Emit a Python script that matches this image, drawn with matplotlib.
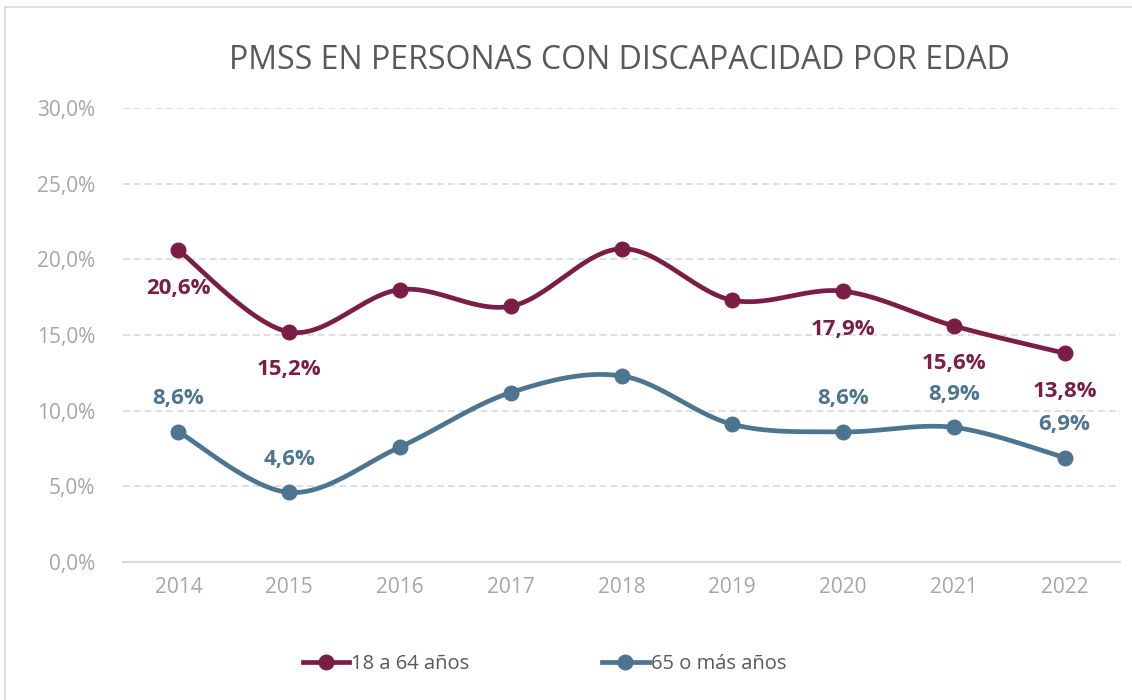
import numpy as np
import matplotlib
matplotlib.use("Agg")
import matplotlib.pyplot as plt
from matplotlib.patches import Rectangle
from matplotlib.ticker import FuncFormatter

years = ["2014", "2015", "2016", "2017", "2018", "2019", "2020", "2021", "2022"]
adultos = [20.6, 15.2, 18.0, 16.9, 20.7, 17.3, 17.9, 15.6, 13.8]
mayores = [8.6, 4.6, 7.6, 11.2, 12.3, 9.1, 8.6, 8.9, 6.9]
# which points carry a data label
labels_adultos = [True, True, False, False, False, False, True, True, True]
labels_mayores = [True, True, False, False, False, False, True, True, True]

RED = "#7B1E45"
BLUE = "#4E7590"
GRAY = "#A6A6A6"

plt.rcParams['font.family'] = ['Open Sans', 'DejaVu Sans']


def smooth(x, y, n=30):
    # Catmull-Rom style smoothing, similar to a spreadsheet "smoothed line"
    x = np.asarray(x, float)
    y = np.asarray(y, float)
    px = np.concatenate([[x[0]], x, [x[-1]]])
    py = np.concatenate([[y[0]], y, [y[-1]]])
    xs, ys = [], []
    t = np.linspace(0, 1, n)
    for i in range(1, len(px) - 2):
        p0, p1, p2, p3 = (np.array([px[j], py[j]]) for j in (i - 1, i, i + 1, i + 2))
        c1 = p1 + (p2 - p0) / 6
        c2 = p2 - (p3 - p1) / 6
        pts = ((1 - t) ** 3)[:, None] * p1 + (3 * (1 - t) ** 2 * t)[:, None] * c1 \
            + (3 * (1 - t) * t ** 2)[:, None] * c2 + (t ** 3)[:, None] * p2
        xs.extend(pts[:, 0])
        ys.extend(pts[:, 1])
    return np.array(xs), np.array(ys)


fig = plt.figure(figsize=(11.32, 7), dpi=100)
ax = fig.add_axes([0.1087, 0.1971, 0.8807, 0.6486])

x = np.arange(len(years))
for vals, color, name in [(adultos, RED, "18 a 64 años"), (mayores, BLUE, "65 o más años")]:
    sx, sy = smooth(x, vals)
    ax.plot(sx, sy, color=color, lw=3.4, solid_capstyle="round", zorder=3)
    ax.plot(x, vals, "o", color=color, ms=10.5, zorder=4)
    ax.plot([], [], "-o", color=color, lw=3.4, ms=10.5, label=name)

for i, v in enumerate(adultos):
    if labels_adultos[i]:
        ax.annotate(f"{v:.1f}%".replace(".", ","), (x[i], v), xytext=(0, -38),
                    textcoords="offset pixels", ha="center", va="center",
                    color=RED, fontsize=16, fontweight="bold")
for i, v in enumerate(mayores):
    if labels_mayores[i]:
        ax.annotate(f"{v:.1f}%".replace(".", ","), (x[i], v), xytext=(0, 33),
                    textcoords="offset pixels", ha="center", va="center",
                    color=BLUE, fontsize=16, fontweight="bold")

ax.set_xlim(-0.5, len(years) - 0.5)
ax.set_ylim(0, 30)
ax.set_yticks(np.arange(0, 31, 5))
ax.yaxis.set_major_formatter(FuncFormatter(lambda v, p: f"{v:.1f}%".replace(".", ",")))
ax.set_xticks(x)
ax.set_xticklabels(years)
ax.tick_params(length=0, colors=GRAY, labelsize=15)
ax.tick_params(axis="y", pad=20)
ax.tick_params(axis="x", pad=11)
ax.grid(axis="y", color="#D9D9D9", ls=(0, (4, 2.5)), lw=1.2)
ax.set_axisbelow(True)
for s in ["top", "right", "left"]:
    ax.spines[s].set_visible(False)
ax.spines["bottom"].set_color("#D9D9D9")
ax.spines["bottom"].set_linewidth(1.5)

fig.text(0.547, 0.913, "PMSS EN PERSONAS CON DISCAPACIDAD POR EDAD", ha="center",
         va="center", fontsize=23, color="#595959")

fig.legend(loc="center", bbox_to_anchor=(0.481, 0.051), ncol=2, frameon=False,
           fontsize=14.5, labelcolor="#595959", handlelength=2.3, handletextpad=0.1,
           columnspacing=6.6)

fig.patches.append(Rectangle((5 / 1132, -0.1), 1.2, (700 - 7) / 700 + 0.1,
                             transform=fig.transFigure, fill=False,
                             edgecolor="#D9D9D9", lw=1.2))

fig.savefig("out.png", dpi=100)
